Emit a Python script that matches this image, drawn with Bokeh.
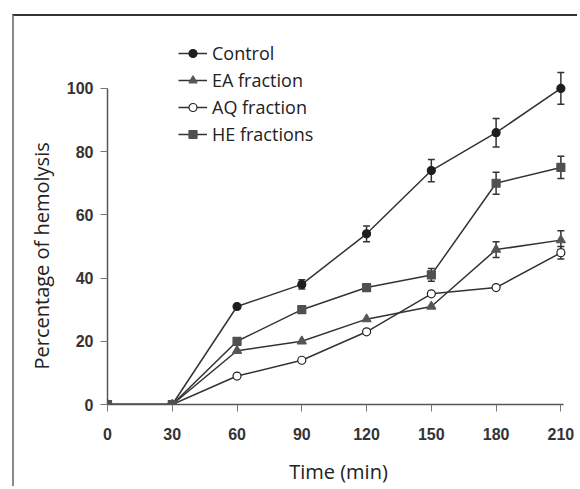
from bokeh.plotting import figure
from bokeh.models import ColumnDataSource, Whisker, TeeHead, Legend, LegendItem, FixedTicker, Title
from bokeh.embed import file_html
from bokeh.resources import INLINE

times = [0, 30, 60, 90, 120, 150, 180, 210]
control = [0, 0, 31, 38, 54, 74, 86, 100]
ea_fraction = [0, 0, 17, 20, 27, 31, 49, 52]
aq_fraction = [0, 0, 9, 14, 23, 35, 37, 48]
he_fractions = [0, 0, 20, 30, 37, 41, 70, 75]

control_err = [0, 0, 0, 1.5, 2.5, 3.5, 4.5, 5]
ea_err = [0, 0, 0, 0, 0, 0, 2.5, 3]
aq_err = [0, 0, 0, 0, 0, 0, 0, 2]
he_err = [0, 0, 0, 0, 0, 2, 3.5, 3.5]

x_ticks = [0, 30, 60, 90, 120, 150, 180, 210]
y_ticks = [0, 20, 40, 60, 80, 100]

p = figure(width=565, height=472, output_backend="svg", toolbar_location=None,
           x_range=(0, 214), y_range=(0, 118.0),
           min_border_left=93, min_border_right=10, min_border_top=15, min_border_bottom=84)
p.styles = {"border-top": "2px solid #333333", "border-left": "2px solid #8a8a8a",
            "margin-left": "12px", "margin-top": "14px"}
p.outline_line_color = None
p.xgrid.visible = False
p.ygrid.visible = False
p.background_fill_color = "white"

for ax in (p.xaxis[0], p.yaxis[0]):
    ax.axis_line_color = "#555555"
    ax.axis_line_width = 1.5
    ax.major_tick_line_color = "#777777"
    ax.major_tick_in = 0
    ax.major_tick_out = 7
    ax.minor_tick_line_color = None
    ax.major_label_text_font = "Liberation Sans"
    ax.major_label_text_font_style = "bold"
    ax.major_label_text_font_size = "16px"
    ax.major_label_text_color = "#333333"
    ax.axis_label_text_font = "Open Sans"
    ax.axis_label_text_font_style = "normal"
    ax.axis_label_text_font_size = "20px"
    ax.axis_label_text_color = "#222222"

p.xaxis.bounds = (0, 211)
p.yaxis.bounds = (0, 100)
p.xaxis.ticker = FixedTicker(ticks=x_ticks)
p.yaxis.ticker = FixedTicker(ticks=y_ticks)
p.xaxis.major_label_standoff = 16
p.yaxis.major_label_standoff = 7
p.xaxis.axis_label = "Time (min)"
p.xaxis.axis_label_standoff = 15

ytitle = Title(text="Percentage of hemolysis", align="left", offset=35, standoff=17,
               text_font="Open Sans", text_font_style="normal", text_font_size="20px",
               text_color="#222222")
p.add_layout(ytitle, "left")

series = [
    ("Control", control, control_err, "circle", "#1e1e1e", "#1e1e1e", 8),
    ("EA fraction", ea_fraction, ea_err, "triangle", "#555555", "#555555", 9),
    ("AQ fraction", aq_fraction, aq_err, "circle", "#222222", "white", 8),
    ("HE fractions", he_fractions, he_err, "square", "#505050", "#505050", 8),
]

items = []
for name, vals, errs, marker, lc, fc, size in series:
    src = ColumnDataSource(dict(x=times, y=vals))
    r1 = p.line("x", "y", source=src, line_color="#333333", line_width=1.5)
    r2 = p.scatter("x", "y", source=src, marker=marker, size=size,
                   line_color=lc, fill_color=fc, line_width=1.2)
    ex = [t for t, e in zip(times, errs) if e > 0]
    up = [v + e for v, e in zip(vals, errs) if e > 0]
    lo = [v - e for v, e in zip(vals, errs) if e > 0]
    esrc = ColumnDataSource(dict(x=ex, upper=up, lower=lo))
    w = Whisker(base="x", upper="upper", lower="lower", source=esrc,
                line_color="#333333", line_width=1.5,
                upper_head=TeeHead(size=7, line_color="#333333", line_width=1.5),
                lower_head=TeeHead(size=7, line_color="#333333", line_width=1.5))
    p.add_layout(w)
    items.append(LegendItem(label=name, renderers=[r1, r2]))

legend = Legend(items=items, location=(71, 258), orientation="vertical",
                background_fill_alpha=0, border_line_color=None,
                padding=0, margin=0, spacing=3, glyph_width=29, glyph_height=20,
                label_height=20, label_standoff=5,
                label_text_font="Open Sans", label_text_font_size="18px",
                label_text_color="#222222")
p.add_layout(legend)

open("out.html", "w").write(file_html(p, INLINE))
